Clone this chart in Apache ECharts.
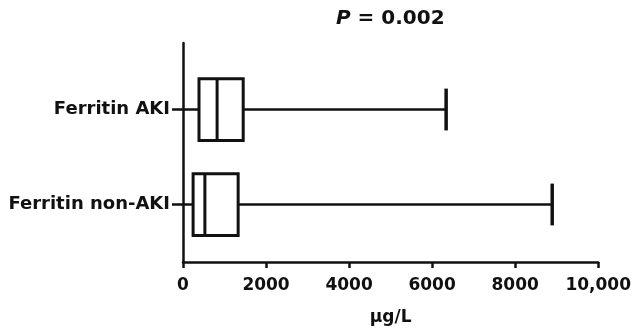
<!DOCTYPE html>
<html>
<head>
<meta charset="utf-8">
<script src="https://cdn.jsdelivr.net/npm/echarts@6/dist/echarts.min.js"></script>
<style>
  html, body { margin: 0; padding: 0; background: #fff; }
  #chart { width: 634px; height: 331px; }
</style>
</head>
<body>
<div id="chart"></div>
<script>
// ferritin values, µg/L
var categories = ['Ferritin AKI', 'Ferritin non-AKI'];
var minVals = [0, 0];
var q1Vals = [380, 240];
var medianVals = [810, 520];
var q3Vals = [1430, 1310];
var maxVals = [6250, 8770];
var xTicks = [0, 2000, 4000, 6000, 8000, 10000];
var pText = '0.002';

var dom = document.getElementById('chart');
var myChart = echarts.init(dom);

var boxData = [];
for (var i = 0; i < categories.length; i++) {
    boxData.push([i, minVals[i], q1Vals[i], medianVals[i], q3Vals[i], maxVals[i]]);
}

function renderBox(params, api) {
    var c = api.value(0);
    var band = api.size([0, 1])[1];
    var bh = band * 0.65;   // box height
    var ch = band * 0.44;   // whisker cap
    var pMin = api.coord([api.value(1), c]);
    var pQ1 = api.coord([api.value(2), c]);
    var pMed = api.coord([api.value(3), c]);
    var pQ3 = api.coord([api.value(4), c]);
    var pMax = api.coord([api.value(5), c]);
    var y = pMed[1];
    var line = { stroke: '#111', lineWidth: 2.5 };
    var box = { stroke: '#111', lineWidth: 3, fill: '#fff' };
    // min cap sits on the y axis line, so only the max cap is drawn
    return {
        type: 'group',
        children: [
            { type: 'line', shape: { x1: pMin[0], y1: y, x2: pQ1[0], y2: y }, style: line },
            { type: 'line', shape: { x1: pQ3[0], y1: y, x2: pMax[0], y2: y }, style: line },
            { type: 'line', shape: { x1: pMax[0], y1: y - ch / 2, x2: pMax[0], y2: y + ch / 2 }, style: { stroke: '#111', lineWidth: 3.5 } },
            { type: 'rect', shape: { x: pQ1[0], y: y - bh / 2, width: pQ3[0] - pQ1[0], height: bh }, style: box },
            { type: 'line', shape: { x1: pMed[0], y1: y - bh / 2, x2: pMed[0], y2: y + bh / 2 }, style: box }
        ]
    };
}

var font = 'DejaVu Sans';

var option = {
    animation: false,
    backgroundColor: '#fff',
    graphic: [{
        type: 'text',
        left: 336,
        top: 9,
        style: {
            text: '{i|P} = ' + pText,
            rich: {
                i: { fontStyle: 'italic', fontWeight: 'bold', fontSize: 20, fontFamily: font, fill: '#111' }
            },
            fontWeight: 'bold',
            fontSize: 20,
            fontFamily: font,
            fill: '#111'
        }
    }],
    grid: [
        // frame with the value axis
        { left: 183, right: 30, top: 43, bottom: 63 },
        // area for the boxes
        { left: 183, right: 30, top: 62, bottom: 79 }
    ],
    xAxis: [
        {
            type: 'value',
            gridIndex: 0,
            min: xTicks[0],
            max: xTicks[xTicks.length - 1],
            interval: 2000,
            name: 'µg/L',
            nameLocation: 'middle',
            nameGap: 47,
            nameTextStyle: { fontFamily: font, fontWeight: 'bold', fontSize: 17, color: '#111' },
            axisLine: { lineStyle: { color: '#111', width: 2.5 } },
            axisTick: { show: true, length: 6, lineStyle: { color: '#111', width: 2.5 } },
            axisLabel: {
                margin: 15,
                fontFamily: font,
                fontWeight: 'bold',
                fontSize: 17,
                color: '#111',
                formatter: function (v) {
                    return v >= 10000 ? '10,000' : String(v);
                }
            },
            splitLine: { show: false }
        },
        {
            type: 'value',
            gridIndex: 1,
            min: xTicks[0],
            max: xTicks[xTicks.length - 1],
            show: false
        }
    ],
    yAxis: [
        {
            type: 'value',
            gridIndex: 0,
            min: 0,
            max: 1,
            axisLine: { show: true, lineStyle: { color: '#111', width: 2.5 } },
            axisTick: { show: false },
            axisLabel: { show: false },
            splitLine: { show: false }
        },
        {
            type: 'category',
            gridIndex: 1,
            inverse: true,
            data: categories,
            axisLine: { show: false },
            axisTick: { show: true, alignWithLabel: true, length: 11, lineStyle: { color: '#111', width: 2.5 } },
            axisLabel: {
                margin: 13,
                fontFamily: font,
                fontWeight: 'bold',
                fontSize: 18,
                color: '#111'
            },
            splitLine: { show: false }
        }
    ],
    series: [{
        type: 'custom',
        xAxisIndex: 1,
        yAxisIndex: 1,
        renderItem: renderBox,
        encode: { x: [1, 2, 3, 4, 5], y: 0 },
        data: boxData
    }]
};

if (option && typeof option === "object") {
    myChart.setOption(option, true);
}
</script>
</body>
</html>
